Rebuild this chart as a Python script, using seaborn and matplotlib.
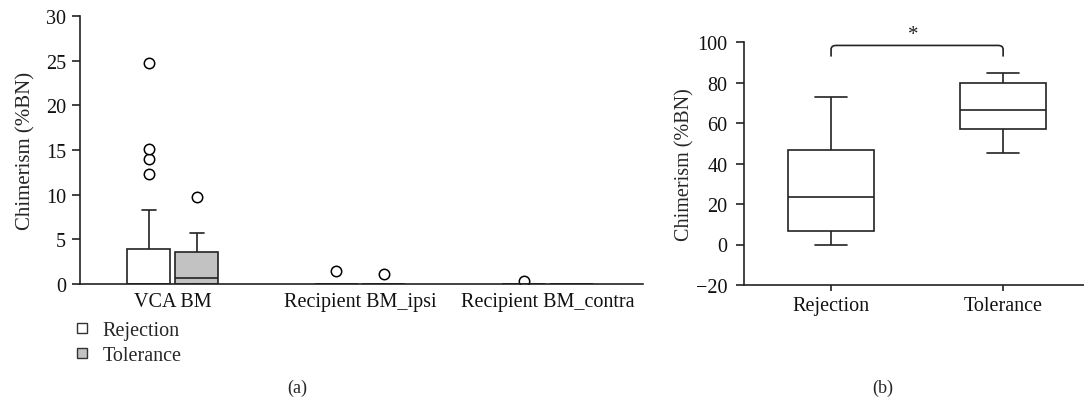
import numpy as np
import pandas as pd
import matplotlib
matplotlib.use("Agg")
import matplotlib.pyplot as plt
from matplotlib.lines import Line2D
from matplotlib.path import Path
from matplotlib.patches import PathPatch
import seaborn as sns

# ---------------- data ----------------
sites = ["VCA BM", "Recipient BM_ipsi", "Recipient BM_contra"]
groups = ["Rejection", "Tolerance"]

rej_vca = [0, 0, 0, 0, 0, 0, 0, 0, 0, 0, 0, 0.3, 0.9, 1.6, 2.7, 3.9, 8.3, 12.3, 14.0, 15.1, 24.7]
tol_vca = [0, 0, 0, 0.3, 0.7, 2.0, 3.55, 5.7, 9.7]
rej_ipsi = [0, 0, 0, 0, 0, 0, 0, 0, 1.4]
tol_ipsi = [0, 0, 0, 0, 0, 0, 0, 0, 1.1]
rej_contra = [0, 0, 0, 0, 0, 0, 0, 0, 0.35]
tol_contra = [0, 0, 0, 0, 0, 0, 0, 0]

b_groups = ["Rejection", "Tolerance"]
b_rej = [0.0, 6.7, 23.5, 46.5, 73.0]
b_tol = [45.2, 57.0, 66.3, 80.0, 84.8]

left_yticks = [0, 5, 10, 15, 20, 25, 30]
right_yticks = [-20, 0, 20, 40, 60, 80, 100]
ylabel = "Chimerism (%BN)"

# ---------------- tables ----------------
rows = []
for site, r, t in zip(sites, [rej_vca, rej_ipsi, rej_contra], [tol_vca, tol_ipsi, tol_contra]):
    rows += [(site, "Rejection", v) for v in r]
    rows += [(site, "Tolerance", v) for v in t]
dfa = pd.DataFrame(rows, columns=["site", "group", "value"])

dfb = pd.DataFrame(
    [("Rejection", v) for v in b_rej] + [("Tolerance", v) for v in b_tol],
    columns=["group", "value"],
)

# ---------------- style ----------------
sns.set_style("ticks")
plt.rcParams["font.family"] = ["Liberation Serif", "DejaVu Serif"]
plt.rcParams["font.size"] = 14.5
plt.rcParams["axes.linewidth"] = 1.2
plt.rcParams["axes.edgecolor"] = "#222222"
plt.rcParams["xtick.color"] = "#222222"
plt.rcParams["ytick.color"] = "#222222"
plt.rcParams["xtick.labelcolor"] = "#111111"
plt.rcParams["ytick.labelcolor"] = "#111111"

fig = plt.figure(figsize=(10.84, 4.02), dpi=100)
axa = fig.add_axes([80 / 1084, 1 - 285 / 402, (643 - 80) / 1084, 268 / 402])
axb = fig.add_axes([744 / 1084, 1 - 286 / 402, (1084 - 744) / 1084, 243 / 402])

line_c = "#222222"
flier = dict(marker="o", markerfacecolor="white", markeredgecolor="black",
             markersize=7.5, markeredgewidth=1.1)

# ---------------- panel (a) ----------------
sns.boxplot(data=dfa, x="site", y="value", hue="group", order=sites, hue_order=groups,
            palette={"Rejection": "white", "Tolerance": "#c2c2c2"},
            width=0.51, gap=0.1, linecolor=line_c, linewidth=1.2,
            flierprops=flier, capwidths=0.075, legend=False, ax=axa,
            saturation=1)
axa.set_xlim(-0.495, 2.51)
axa.set_ylim(0, 30)
axa.set_yticks(left_yticks)
axa.set_xlabel("")
axa.set_ylabel(ylabel, fontsize=15)
axa.yaxis.set_label_coords(-0.079, 0.5)
axa.tick_params(axis="x", length=0, pad=6, labelsize=14.5)
axa.tick_params(axis="y", length=6, width=1.2, pad=4, labelsize=14.5)
sns.despine(ax=axa)

handles = [Line2D([], [], marker="s", linestyle="none", markersize=7.5,
                  markerfacecolor=c, markeredgecolor="#333333", markeredgewidth=1.0)
           for c in ["white", "#c2c2c2"]]
fig.legend(handles, groups, loc="upper left", bbox_to_anchor=(62 / 1084, 1 - 312 / 402),
           frameon=False, handletextpad=0.5, labelspacing=0.3, borderpad=0,
           handlelength=1.0, fontsize=14.5)

# ---------------- panel (b) ----------------
sns.boxplot(data=dfb, x="group", y="value", order=b_groups, whis=(0, 100),
            color="white", width=0.5, linecolor=line_c, linewidth=1.2,
            capwidths=0.19, ax=axb, saturation=1)
axb.set_xlim(-0.506, 1.47)
axb.set_ylim(-20, 100)
axb.set_yticks(right_yticks)
axb.set_xlabel("")
axb.set_ylabel(ylabel, fontsize=14.5)
axb.yaxis.set_label_coords(-0.147, 0.5)
axb.tick_params(axis="x", length=4, width=1.2, pad=4, labelsize=14.5)
axb.tick_params(axis="y", length=6, width=1.2, pad=6, labelsize=14.5)
sns.despine(ax=axb)

# significance bracket between the two groups
x0, x1 = 0, 1
y_top = max(b_rej + b_tol) + 13.5
y_end = y_top - 5.5
r = 0.03
verts = [(x0, y_end), (x0, y_top - 2), (x0, y_top), (x0 + r, y_top),
         (x1 - r, y_top), (x1, y_top), (x1, y_top - 2), (x1, y_end)]
codes = [Path.MOVETO, Path.LINETO, Path.CURVE3, Path.CURVE3,
         Path.LINETO, Path.CURVE3, Path.CURVE3, Path.LINETO]
axb.add_patch(PathPatch(Path(verts, codes), facecolor="none", edgecolor=line_c,
                        linewidth=1.2, clip_on=False))
axb.text((x0 + x1) / 2 - 0.02, y_top + 0.5, "*", ha="center", va="bottom", fontsize=15,
         color="#222222", clip_on=False)

# panel letters
fig.text(297 / 1084, 1 - 388 / 402, "(a)", ha="center", va="center", fontsize=13)
fig.text(883 / 1084, 1 - 388 / 402, "(b)", ha="center", va="center", fontsize=13)

fig.savefig("out.png", dpi=100)
